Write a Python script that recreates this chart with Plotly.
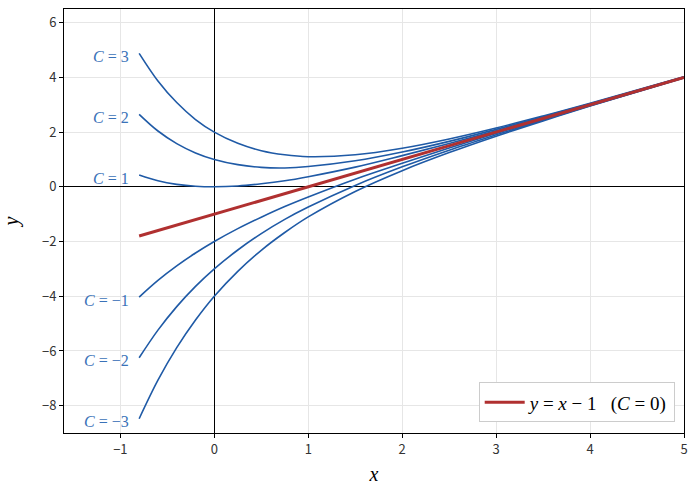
import plotly.graph_objects as go

# sample points
x_vals = [-0.8, -0.6, -0.4, -0.2, 0.0, 0.25, 0.5, 0.75, 1.0, 1.5, 2.0, 2.5, 3.0, 3.5, 4.0, 5.0]

c_labels = ['C = 3', 'C = 2', 'C = 1', 'C = -1', 'C = -2', 'C = -3']
curve_c3 = [4.88, 3.87, 3.08, 2.46, 2.00, 1.59, 1.32, 1.17, 1.10, 1.17, 1.41, 1.75, 2.15, 2.59, 3.05, 4.02]
curve_c2 = [2.65, 2.04, 1.58, 1.24, 1.00, 0.81, 0.71, 0.69, 0.74, 0.95, 1.27, 1.66, 2.10, 2.56, 3.04, 4.01]
curve_c1 = [0.43, 0.22, 0.09, 0.02, 0.00, 0.03, 0.11, 0.22, 0.37, 0.72, 1.14, 1.58, 2.05, 2.53, 3.02, 4.01]
curve_m1 = [-4.03, -3.42, -2.89, -2.42, -2.00, -1.53, -1.11, -0.72, -0.37, 0.28, 0.86, 1.42, 1.95, 2.47, 2.98, 3.99]
curve_m2 = [-6.25, -5.24, -4.38, -3.64, -3.00, -2.31, -1.71, -1.19, -0.74, 0.05, 0.73, 1.34, 1.90, 2.44, 2.96, 3.99]
curve_m3 = [-8.48, -7.07, -5.88, -4.87, -4.00, -3.09, -2.32, -1.67, -1.10, -0.17, 0.59, 1.25, 1.85, 2.41, 2.95, 3.98]
curves = [curve_c3, curve_c2, curve_c1, curve_m1, curve_m2, curve_m3]

line_x = [-0.8, 5.0]
line_y = [-1.8, 4.0]

blue = '#1f5aa6'
label_blue = '#3a72b8'
red = '#b03030'
serif = 'Liberation Serif'

fig = go.Figure()

for lab, ys in zip(c_labels, curves):
    fig.add_trace(go.Scatter(x=x_vals, y=ys, mode='lines', line=dict(color=blue, width=1.6, shape='spline'),
                             showlegend=False, hoverinfo='skip'))
    txt = '<i>C</i> = ' + lab.split('= ')[1].replace('-', '\u2212')
    fig.add_annotation(x=x_vals[0] - 0.09, y=ys[0], text=txt, showarrow=False, xanchor='right',
                       yshift=-3, font=dict(family=serif, size=16, color=label_blue))

fig.add_trace(go.Scatter(x=line_x, y=line_y, mode='lines', line=dict(color=red, width=3),
                         name='<i>y</i> = <i>x</i> \u2212 1   (<i>C</i> = 0)'))

axis_common = dict(showline=True, linecolor='black', linewidth=1, mirror=True,
                   gridcolor='#e6e6e6', gridwidth=1, ticks='outside', ticklen=4,
                   tickcolor='black', zeroline=True, zerolinecolor='black', zerolinewidth=1,
                   automargin=False,
                   tickfont=dict(family='Noto Sans CJK JP', size=13, color='#333333'))

fig.update_layout(
    width=697, height=488,
    margin=dict(l=64, r=13, t=9, b=55),
    plot_bgcolor='white', paper_bgcolor='white',
    xaxis=dict(range=[-1.6, 5], dtick=1,
               title=dict(text='<i>x</i>', font=dict(family=serif, size=20, color='black'), standoff=10),
               **axis_common),
    yaxis=dict(range=[-9, 6.5], dtick=2,
               title=dict(text='<i>y</i>', font=dict(family=serif, size=20, color='black'), standoff=22),
               **axis_common),
    legend=dict(x=0.985, y=0.025, xanchor='right', yanchor='bottom',
                bgcolor='white', bordercolor='#cccccc', borderwidth=1, itemwidth=40,
                font=dict(family=serif, size=19, color='black')),
)

fig.write_html("out.html", config={'displayModeBar': False},
               post_script="document.body.style.margin='0';")
